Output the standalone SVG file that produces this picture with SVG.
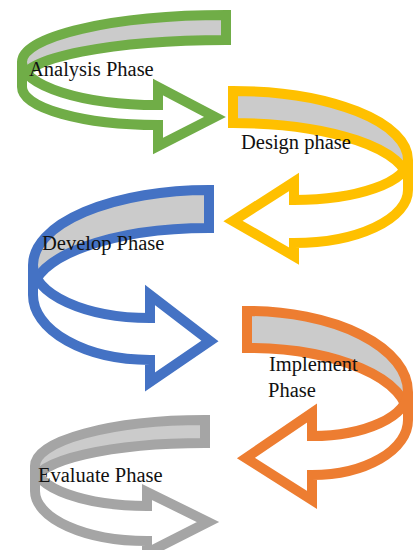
<svg xmlns="http://www.w3.org/2000/svg" width="414" height="550" viewBox="0 0 414 550">
<style>
.back{fill:#CBCBCB;stroke-width:10;stroke-linejoin:miter}
.front{fill:#FFFFFF;stroke-width:10;stroke-linejoin:miter}
.g{stroke:#70AD47}.y{stroke:#FFC000}.b{stroke:#4472C4}.o{stroke:#ED7D31}.s{stroke:#A5A5A5}
.lbl{font-family:"Liberation Serif","Times New Roman",serif;font-size:20.5px;fill:#111}
</style>
<rect width="414" height="550" fill="#fff"/>
<g id="analysis">
<path class="back g" d="M226,15 A204,47 0 0 0 22,62 L22,80 A204,40 0 0 1 226,40 Z"/>
<path class="front g" d="M22,62 A136,43 0 0 0 158,105 L158,87 L215,117 L158,146 L158,125 A136,38 0 0 1 22,87 Z"/>
<text class="lbl" x="29" y="76">Analysis Phase</text>
</g>
<g id="design">
<path class="back y" d="M233,91 A175,69 0 0 1 408,160 L408,182 A175,59 0 0 0 233,123 Z"/>
<path class="front y" d="M408,160 A114,40 0 0 1 294,200 L294,182 L233,221 L294,256 L294,243 A114,53 0 0 0 408,190 Z"/>
<text class="lbl" x="241" y="149">Design phase</text>
</g>
<g id="develop">
<path class="back b" d="M209,190 A176,75 0 0 0 33,265 L33,292 A176,64 0 0 1 209,228 Z"/>
<path class="front b" d="M33,265 A117,53 0 0 0 150,318 L150,295 L210,341 L150,382 L150,360 A117,65 0 0 1 33,295 Z"/>
<text class="lbl" x="42" y="250">Develop Phase</text>
</g>
<g id="implement">
<path class="back o" d="M247,311 A161,81 0 0 1 408,392 L408,417 A161,69 0 0 0 247,348 Z"/>
<path class="front o" d="M408,392 A96,44 0 0 1 312,436 L312,413 L246,458 L312,500 L312,475 A96,55 0 0 0 408,420 Z"/>
<text class="lbl" x="269" y="371">Implement</text>
<text class="lbl" x="268" y="397">Phase</text>
</g>
<g id="evaluate">
<path class="back s" d="M205,420 A170,46 0 0 0 35,466 L35,482 A170,39 0 0 1 205,443 Z"/>
<path class="front s" d="M35,466 A112,40 0 0 0 147,506 L147,492 L208,522 L147,553 L147,541 A112,50 0 0 1 35,491 Z"/>
<text class="lbl" x="38" y="482">Evaluate Phase</text>
</g>
<g id="connectors"/>
</svg>
